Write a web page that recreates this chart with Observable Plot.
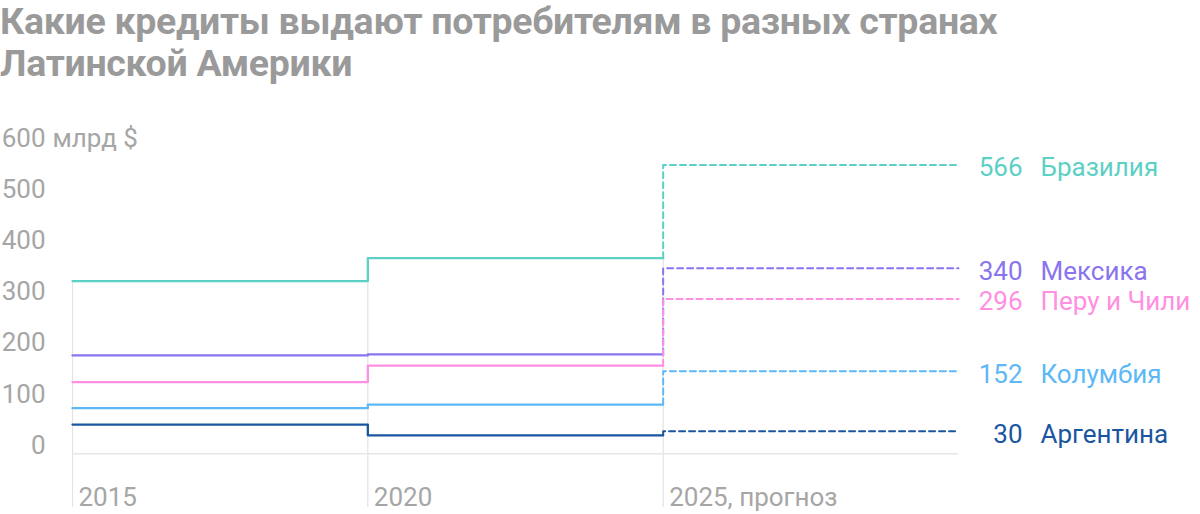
<!DOCTYPE html>
<html>
<head>
<meta charset="utf-8">
<script src="https://cdn.jsdelivr.net/npm/d3@7"></script>
<script src="https://cdn.jsdelivr.net/npm/@observablehq/plot@0.6"></script>
<style>
  html, body { margin: 0; padding: 0; background: #fff; }
  #title { height: 90px; margin: 0; padding: 0; font-family: Roboto, sans-serif; font-weight: 700; font-size: 37.5px; line-height: 42px; color: #9a9a9a; letter-spacing: -0.3px; white-space: nowrap; }
  svg { display: block; }
</style>
</head>
<body>
<div id="title">Какие кредиты выдают потребителям в разных странах<br>Латинской Америки</div>
<div id="chart"></div>
<script>
const countries = ["Бразилия", "Мексика", "Перу и Чили", "Колумбия", "Аргентина"];
const colors = ["#5dd0c6", "#8a74ef", "#ff8fe1", "#5cb8f6", "#1a56a0"];
const years = [2015, 2020, 2025, 2030];
const yearLabels = ["2015", "2020", "2025, прогноз"];
const v2015 = [337, 192, 140, 89, 57];
const v2020 = [382, 194, 172, 96, 36];
const v2025 = [564, 362, 302, 161, 44];
const labels2025 = ["566", "340", "296", "152", "30"];
const yTicks = [0, 100, 200, 300, 400, 500, 600];
const yUnit = "млрд $";

const actual = [];
const forecast = [];
countries.forEach((c, i) => {
  actual.push({country: c, year: years[0], value: v2015[i]});
  actual.push({country: c, year: years[1], value: v2020[i]});
  actual.push({country: c, year: years[2], value: v2020[i]});
  forecast.push({country: c, year: years[2], value: v2020[i]});
  forecast.push({country: c, year: years[3], value: v2025[i]});
});
const ends = countries.map((c, i) => ({country: c, year: years[3], value: v2025[i], label: labels2025[i]}));
const gridTops = [d3.max(v2015), d3.max(v2020), d3.max(v2020)];
const xTicks = yearLabels.map((l, i) => ({year: years[i], label: l, top: gridTops[i]}));
const bottom = -105;

const colorScale = {domain: countries, range: colors};
const font = "Roboto, sans-serif";

const chart = Plot.plot({
  width: 1200,
  height: 424,
  marginTop: 56,
  marginBottom: 7,
  marginLeft: 72,
  marginRight: 242,
  x: {domain: [years[0], years[3]], axis: null},
  y: {domain: [bottom, 600], axis: null},
  color: colorScale,
  style: {fontFamily: font, background: "#fff"},
  marks: [
    Plot.ruleX(xTicks, {x: "year", y1: bottom, y2: "top", stroke: "#e3e3e3", strokeWidth: 1.2}),
    Plot.ruleY([0], {x1: years[0], x2: years[3], stroke: "#e6e6e6", strokeWidth: 1.5}),
    Plot.line(actual, {x: "year", y: "value", z: "country", stroke: "country", curve: "step-after", strokeWidth: 2.3}),
    Plot.line(forecast, {x: "year", y: "value", z: "country", stroke: "country", curve: "step-before", strokeWidth: 2, strokeDasharray: "6,4"}),
    Plot.text(yTicks, {y: d => d, text: d => String(d), frameAnchor: "left", textAnchor: "end", lineAnchor: "bottom", dx: -27, fontSize: 26, fill: "#a6a6a6"}),
    Plot.text([yTicks[yTicks.length - 1]], {y: d => d, text: () => yUnit, frameAnchor: "left", textAnchor: "start", lineAnchor: "bottom", dx: -20, fontSize: 26, fill: "#a6a6a6"}),
    Plot.text(xTicks, {x: "year", y: bottom, text: "label", textAnchor: "start", lineAnchor: "bottom", dx: 6, dy: -2, fontSize: 26, fill: "#a6a6a6"}),
    Plot.text(ends, {x: "year", y: "value", text: "label", fill: "country", textAnchor: "end", lineAnchor: "middle", dx: 64, dy: 3, fontSize: 26}),
    Plot.text(ends, {x: "year", y: "value", text: "country", fill: "country", textAnchor: "start", lineAnchor: "middle", dx: 82, dy: 3, fontSize: 26})
  ]
});
document.getElementById("chart").appendChild(chart);
</script>
</body>
</html>
